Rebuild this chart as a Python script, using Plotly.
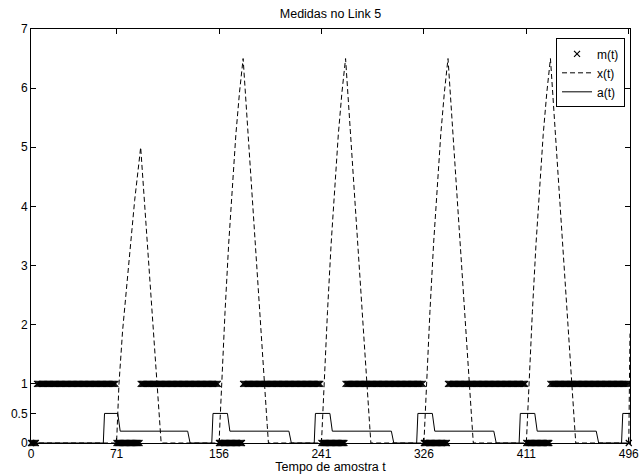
import plotly.graph_objects as go

# ---------------- data ----------------
# x(t): breakpoints of the dashed curve
x_t = [0, 71, 73, 76, 81, 86, 91, 107, 108,
       156, 158, 161, 164, 167, 170, 173, 176, 196, 197,
       241, 243, 246, 249, 252, 255, 258, 261, 281, 282,
       326, 328, 331, 334, 337, 340, 343, 346, 366, 367,
       411, 413, 416, 419, 422, 425, 428, 431, 451, 452,
       496, 497]
x_val = [0, 0, 1.0, 1.9, 3.0, 4.1, 5.0, 0.2, 0,
         0, 0.94, 2.22, 3.36, 4.36, 5.22, 5.93, 6.5, 0.3, 0,
         0, 0.94, 2.22, 3.36, 4.36, 5.22, 5.93, 6.5, 0.3, 0,
         0, 0.94, 2.22, 3.36, 4.36, 5.22, 5.93, 6.5, 0.3, 0,
         0, 0.94, 2.22, 3.36, 4.36, 5.22, 5.93, 6.5, 0.3, 0,
         0, 1.85]

# a(t): breakpoints of the solid curve
a_t = [0, 60, 61, 72, 74, 130, 132,
       150, 151, 163, 165, 214, 216,
       235, 236, 248, 250, 299, 301,
       320, 321, 333, 335, 384, 386,
       405, 406, 418, 420, 469, 471,
       490, 491, 497]
a_val = [0, 0, 0.5, 0.5, 0.2, 0.2, 0,
         0, 0.5, 0.5, 0.2, 0.2, 0,
         0, 0.5, 0.5, 0.2, 0.2, 0,
         0, 0.5, 0.5, 0.2, 0.2, 0,
         0, 0.5, 0.5, 0.2, 0.2, 0,
         0, 0.5, 0.5]

# m(t): runs of constant value (run start sample, value); last sample 496
m_run_start = [0, 5, 71, 91, 156, 176, 241, 261, 326, 346, 411, 431, 496]
m_run_value = [0, 1, 0, 1, 0, 1, 0, 1, 0, 1, 0, 1, 0]
m_last = 496

x_ticks = [0, 71, 156, 241, 326, 411, 496]
y_ticks = [0, 0.5, 1, 2, 3, 4, 5, 6, 7]
y_tick_text = ["0", "0.5", "1", "2", "3", "4", "5", "6", "7"]

title_text = "Medidas no Link 5"
x_label = "Tempo de amostra t"

# expand m runs to samples
m_t, m_val = [], []
for i, s in enumerate(m_run_start):
    e = m_run_start[i + 1] - 1 if i + 1 < len(m_run_start) else m_last
    for t in range(s, e + 1):
        m_t.append(t)
        m_val.append(m_run_value[i])

FONT = "Arial, 'Liberation Sans', Helvetica, sans-serif"

fig = go.Figure()
fig.add_trace(go.Scatter(
    x=m_t, y=m_val, mode="markers", name="m(t)", cliponaxis=False,
    marker=dict(symbol="x-thin", size=6, color="black",
                line=dict(color="black", width=1.2)),
))
fig.add_trace(go.Scatter(
    x=x_t, y=x_val, mode="lines", name="x(t)",
    line=dict(color="black", width=1, dash="5px,3px"),
))
fig.add_trace(go.Scatter(
    x=a_t, y=a_val, mode="lines", name="a(t)",
    line=dict(color="black", width=1),
))

axis_common = dict(
    showline=True, linecolor="black", linewidth=1, mirror="ticks",
    ticks="inside", ticklen=5, tickwidth=1, tickcolor="black",
    showgrid=False, zeroline=False, automargin=False,
    ticklabeloverflow="allow",
    tickfont=dict(family=FONT, size=12, color="black"),
)

fig.update_layout(
    width=639, height=474,
    margin=dict(l=31, r=9, t=29, b=31, autoexpand=False),
    paper_bgcolor="white", plot_bgcolor="white",
    font=dict(family=FONT, size=12, color="black"),
    title=dict(text=title_text, x=0.5, xref="paper", xanchor="center",
               y=1 - 14 / 474, yanchor="middle",
               font=dict(family=FONT, size=12.5, color="black")),
    xaxis=dict(range=[0, 497], tickvals=x_ticks,
               ticktext=[str(v) for v in x_ticks],
               title=dict(text=x_label, standoff=0,
                          font=dict(family=FONT, size=12.5, color="black")),
               **axis_common),
    yaxis=dict(range=[0, 7], tickvals=y_ticks, ticktext=y_tick_text,
               **axis_common),
    legend=dict(x=0.9917, y=0.9775, xanchor="right", yanchor="top",
                bgcolor="white", bordercolor="black", borderwidth=1,
                font=dict(family=FONT, size=12, color="black"),
                tracegroupgap=0, itemwidth=30),
    showlegend=True,
)

fig.write_html("out.html",
               config={"displayModeBar": False},
               post_script="document.body.style.margin='0px';"
                           "document.body.style.overflow='hidden';")
